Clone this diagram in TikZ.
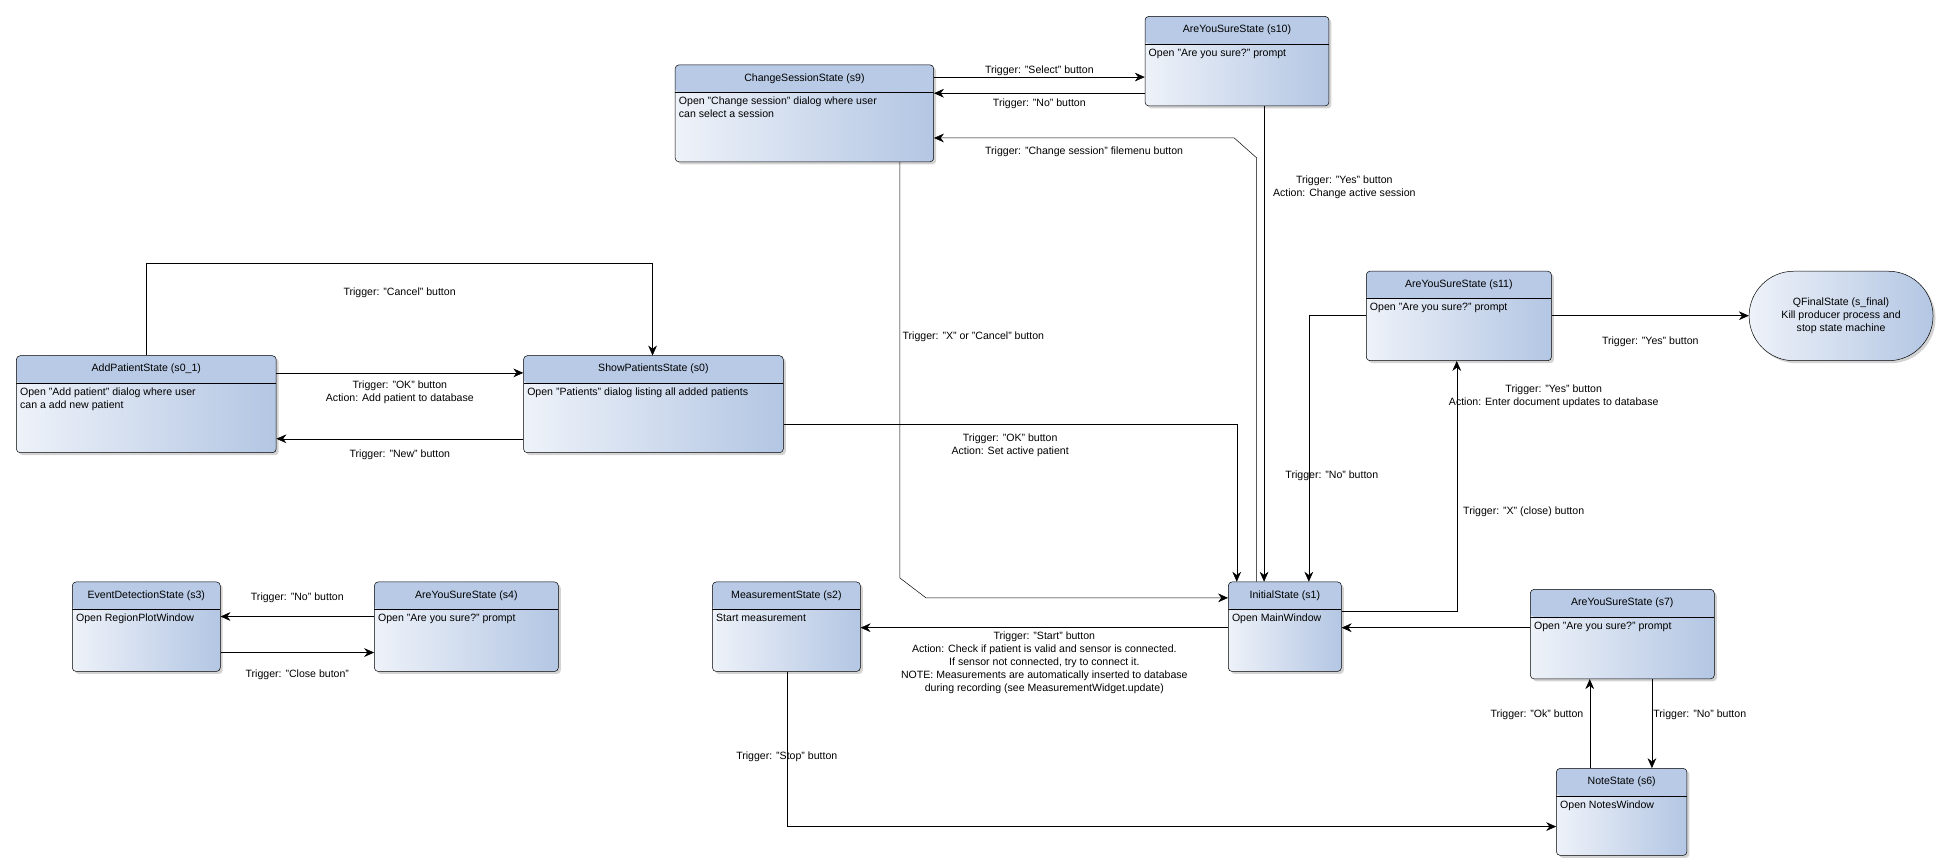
\documentclass[tikz,border=0pt]{standalone}
\usepackage{fontspec}
\setmainfont{Liberation Sans}
\usetikzlibrary{arrows.meta,shadows}
\definecolor{headblue}{HTML}{B8CAE5}
\definecolor{lightblue}{HTML}{EEF2F9}
\definecolor{darkblue}{HTML}{B3C6E3}
\tikzstyle{state} = [draw, rounded corners=3pt, left color=lightblue, right color=darkblue,
    drop shadow={opacity=0.35,shadow xshift=2pt,shadow yshift=-2pt}, inner sep=0pt,
    path picture={\fill[headblue] (path picture bounding box.north west) rectangle ([yshift=-22pt]path picture bounding box.north east);
      \draw ([yshift=-22pt]path picture bounding box.north west) -- ([yshift=-22pt]path picture bounding box.north east);}]
\tikzstyle{final} = [draw, rounded corners=36pt, left color=lightblue, right color=darkblue,
    drop shadow={opacity=0.35,shadow xshift=2pt,shadow yshift=-2pt}, align=center, inner sep=0pt]
\tikzstyle{line} = [draw, -{Stealth[length=8pt,width=7pt]}]
\tikzstyle{lbl} = [align=center, inner sep=1pt]
% name, x, y, width, height, title, body
\newcommand{\statebox}[7]{%
  \node [state, anchor=north west, minimum width=#4pt, minimum height=#5pt] (#1) at (#2,#3) {};
  \node [anchor=center] at ([yshift=-11pt]#1.north) {#6};
  \node [anchor=north west, align=left, inner sep=3pt] at ([yshift=-23pt]#1.north west) {#7};
}
\begin{document}
\begin{tikzpicture}[x=1pt, y=-1pt, font=\fontsize{8.5}{10.5}\selectfont]
    \useasboundingbox (0,0) rectangle (1560,697);
    % Place nodes
    \statebox{s9}{543}{52}{208}{78}{ChangeSessionState (s9)}{Open "Change session" dialog where user\\can select a session}
    \statebox{s10}{921}{13}{148}{72}{AreYouSureState (s10)}{Open "Are you sure?" prompt}
    \statebox{s11}{1099}{218}{149}{72}{AreYouSureState (s11)}{Open "Are you sure?" prompt}
    \node [final, anchor=north west, minimum width=148pt, minimum height=72pt] (sf) at (1407,218)
        {QFinalState (s\_final)\\Kill producer process and\\stop state machine};
    \statebox{s01}{13}{286}{209}{78}{AddPatientState (s0\_1)}{Open "Add patient" dialog where user\\can a add new patient}
    \statebox{s0}{421}{286}{209}{78}{ShowPatientsState (s0)}{Open "Patients" dialog listing all added patients}
    \statebox{s3}{58}{468}{119}{72}{EventDetectionState (s3)}{Open RegionPlotWindow}
    \statebox{s4}{301}{468}{148}{72}{AreYouSureState (s4)}{Open "Are you sure?" prompt}
    \statebox{s2}{573}{468}{119}{72}{MeasurementState (s2)}{Start measurement}
    \statebox{s1}{988}{468}{91}{72}{InitialState (s1)}{Open MainWindow}
    \statebox{s7}{1231}{474}{148}{72}{AreYouSureState (s7)}{Open "Are you sure?" prompt}
    \statebox{s6}{1252}{618}{105}{70}{NoteState (s6)}{Open NotesWindow}

    % Draw edges
    \path [line] (s9.east |- 0,62) -- node [lbl, above] {Trigger: "Select" button} (s10.west |- 0,62);
    \path [line] (s10.west |- 0,75) -- node [lbl, below=3pt] {Trigger: "No" button} (s9.east |- 0,75);
    \path [line] (s1.north -| 1011,0) -- (1011,127) -- (993,111) -- node [lbl, below=6pt] {Trigger: "Change session" filemenu button} (s9.east |- 0,111);
    \path [line] (s10.south -| 1017,0) -- node [lbl, pos=0.17, right=6pt] {Trigger: "Yes" button\\Action: Change active session} (s1.north -| 1017,0);
    \path [line] (s9.south -| 724,0) -- node [lbl, pos=0.42, right=1pt] {Trigger: "X" or "Cancel" button} (724,465) -- (745,481) -- (s1.west |- 0,481);
    \path [line] (s0.east |- 0,341) -- node [lbl, pos=0.5, below=7pt] {Trigger: "OK" button\\Action: Set active patient} (995,341) -- (s1.north -| 995,0);
    \path [line] (s11.west |- 0,254) -- (1053,254) -- node [lbl, pos=0.6, right=-20pt] {Trigger: "No" button} (s1.north -| 1053,0);
    \path [line] (s1.east |- 0,492) -- (1172,492) -- node [lbl, pos=0.4, right=4pt] {Trigger: "X" (close) button} (s11.south -| 1172,0);
    \node [lbl] (yesdb) at (1250,319) {Trigger: "Yes" button\\Action: Enter document updates to database};
    \path [line] (s11.east |- 0,254) -- node [lbl, below=16pt, pos=0.5] {Trigger: "Yes" button} (sf.west |- 0,254);
    \path [line] (s7.west |- 0,505) -- (s1.east |- 0,505);
    \path [line] (s6.north -| 1279,0) -- node [lbl, left=4pt, pos=0.6] {Trigger: "Ok" button} (s7.south -| 1279,0);
    \path [line] (s7.south -| 1329,0) -- node [lbl, right=0pt, pos=0.4] {Trigger: "No" button} (s6.north -| 1329,0);
    \path [line] (s1.west |- 0,505) -- node [lbl, below=2pt] {Trigger: "Start" button\\Action: Check if patient is valid and sensor is connected.\\If sensor not connected, try to connect it.\\NOTE: Measurements are automatically inserted to database\\during recording (see MeasurementWidget.update)} (s2.east |- 0,505);
    \path [line] (s2.south -| 633,0) -- node [lbl, pos=0.55] {Trigger: "Stop" button} (633,665) -- (s6.west |- 0,665);
    \path [line] (s01.east |- 0,300) -- node [lbl, below=5pt] {Trigger: "OK" button\\Action: Add patient to database} (s0.west |- 0,300);
    \path [line] (s0.west |- 0,353) -- node [lbl, below=8pt] {Trigger: "New" button} (s01.east |- 0,353);
    \path [line] (s01.north -| 118,0) -- (118,212) -- node [lbl, below=18pt] {Trigger: "Cancel" button} (525,212) -- (s0.north -| 525,0);
    \path [line] (s4.west |- 0,496) -- node [lbl, above=10pt] {Trigger: "No" button} (s3.east |- 0,496);
    \path [line] (s3.east |- 0,525) -- node [lbl, below=13pt] {Trigger: "Close buton"} (s4.west |- 0,525);
\end{tikzpicture}
\end{document}
